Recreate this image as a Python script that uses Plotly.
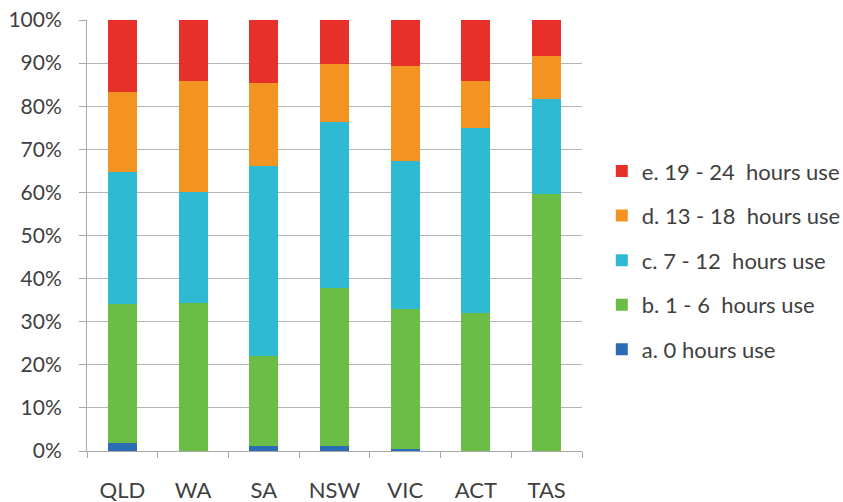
import plotly.graph_objects as go

states = ["QLD", "WA", "SA", "NSW", "VIC", "ACT", "TAS"]

# Share of respondents (%) in each daily-use band, per state
hours_0 = [1.9, 0.0, 1.2, 1.2, 0.5, 0.0, 0.0]
hours_1_6 = [32.2, 34.3, 20.8, 36.6, 32.4, 32.0, 59.6]
hours_7_12 = [30.6, 25.8, 44.1, 38.5, 34.4, 42.9, 22.1]
hours_13_18 = [18.6, 25.7, 19.3, 13.5, 22.0, 10.9, 9.9]
hours_19_24 = [16.7, 14.2, 14.6, 10.2, 10.7, 14.2, 8.4]

series = [
    ("a. 0 hours use", hours_0, "#2B6DB4"),
    ("b. 1 - 6  hours use", hours_1_6, "#6CBD45"),
    ("c. 7 - 12  hours use", hours_7_12, "#2FBAD3"),
    ("d. 13 - 18  hours use", hours_13_18, "#F39322"),
    ("e. 19 - 24  hours use", hours_19_24, "#E8302B"),
]

fig = go.Figure()
for i, (name, vals, color) in enumerate(series):
    fig.add_trace(go.Bar(
        x=states, y=vals, name=name, legendgroup=str(i),
        legendrank=100 - i,  # top band listed first
        marker=dict(color=color, line=dict(width=0)),
        width=0.41,
    ))

font_family = "Lato, 'Open Sans', sans-serif"

fig.update_layout(
    barmode="stack",
    width=843, height=502,
    margin=dict(l=87, r=261, t=20, b=51, autoexpand=False),
    paper_bgcolor="white", plot_bgcolor="white",
    font=dict(family=font_family, size=22, color="#404040"),
    legend=dict(
        x=1.04, xanchor="left", y=0.698, yanchor="top",
        traceorder="grouped", tracegroupgap=13,
        font=dict(size=22, color="#404040"),
        itemwidth=30,
    ),
    xaxis=dict(
        automargin=False,
        showline=True, linecolor="#A8A8A8", linewidth=1,
        ticks="outside", tickson="boundaries", ticklen=6, tickcolor="#A8A8A8",
        tickfont=dict(size=22, color="#404040"),
        ticklabelstandoff=20,
    ),
    yaxis=dict(
        automargin=False,
        range=[0, 100], dtick=10, ticksuffix="%",
        showline=True, linecolor="#A8A8A8", linewidth=1,
        ticks="outside", ticklen=7, tickcolor="#A8A8A8",
        showgrid=True, gridcolor="#B5B5B5", gridwidth=1,
        tickfont=dict(size=21, color="#404040"),
        ticklabelstandoff=13,
        zeroline=False,
    ),
)

fig.write_html("out.html")
